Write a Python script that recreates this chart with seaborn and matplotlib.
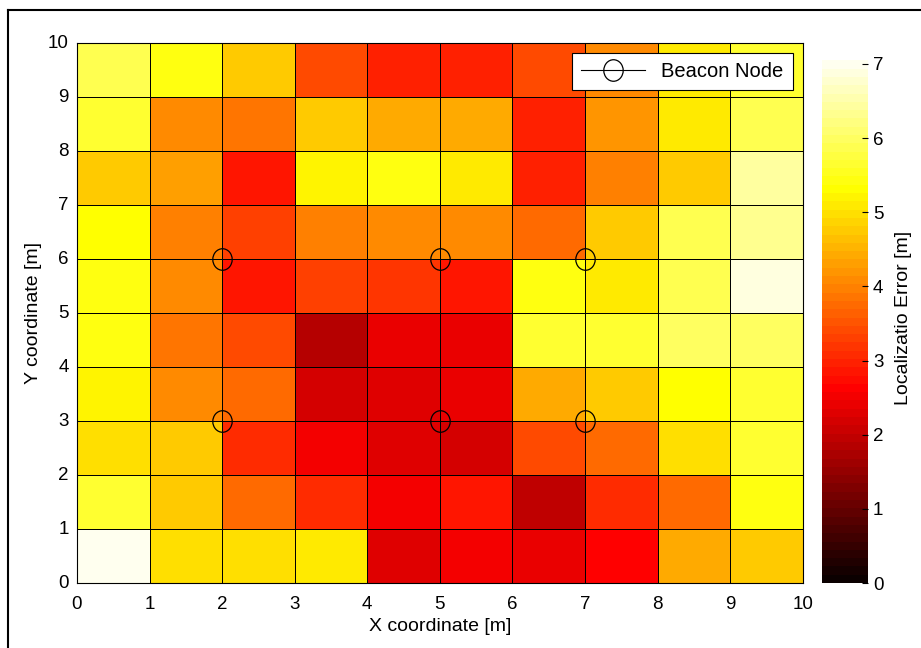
import matplotlib
matplotlib.use('Agg')
import matplotlib.pyplot as plt
from matplotlib.lines import Line2D
from matplotlib.markers import MarkerStyle
from matplotlib.transforms import Affine2D
import seaborn as sns
import pandas as pd

# localization error per 1m x 1m cell, one list per row (bottom row first)
err_y0 = [6.95, 5.00, 5.00, 5.08, 2.30, 2.54, 2.45, 2.65, 4.40, 4.80]
err_y1 = [5.70, 4.80, 3.70, 3.05, 2.54, 2.80, 1.98, 3.05, 3.80, 5.40]
err_y2 = [5.00, 4.80, 3.12, 2.54, 2.30, 2.20, 3.40, 3.70, 5.00, 5.70]
err_y3 = [5.15, 4.05, 3.70, 2.20, 2.30, 2.37, 4.47, 4.80, 5.30, 5.60]
err_y4 = [5.40, 3.90, 3.40, 1.80, 2.45, 2.45, 5.60, 5.70, 6.00, 6.00]
err_y5 = [5.40, 4.13, 2.90, 3.30, 3.20, 2.90, 5.40, 5.08, 5.90, 6.85]
err_y6 = [5.30, 3.98, 3.30, 3.98, 4.05, 4.13, 3.70, 4.70, 5.90, 6.30]
err_y7 = [4.70, 4.30, 2.80, 5.15, 5.45, 5.08, 2.95, 3.98, 4.70, 6.40]
err_y8 = [5.70, 4.13, 3.90, 4.70, 4.47, 4.47, 2.95, 4.20, 5.08, 5.90]
err_y9 = [5.90, 5.40, 4.80, 3.40, 2.95, 2.95, 3.45, 4.05, 5.08, 5.70]

beacon_x = [2, 5, 7, 2, 5, 7]
beacon_y = [6, 6, 6, 3, 3, 3]

ticks = list(range(0, 11))

rows = [err_y0, err_y1, err_y2, err_y3, err_y4, err_y5, err_y6, err_y7, err_y8, err_y9]
df = pd.DataFrame(rows, index=range(10), columns=range(10))

plt.rcParams['font.family'] = ['Liberation Sans', 'DejaVu Sans']

fig = plt.figure(figsize=(9.21, 6.48), dpi=100)
ax = fig.add_axes([0.0836, 0.1003, 0.788, 0.8333])
cax = fig.add_axes([0.8925, 0.1003, 0.05, 0.8194])

sns.heatmap(df, ax=ax, cbar_ax=cax, cmap=plt.get_cmap('hot', 64),
            vmin=0, vmax=7.16, linewidths=0.6, linecolor='black',
            cbar_kws={'ticks': [0, 1, 2, 3, 4, 5, 6, 7]})
ax.invert_yaxis()

# circles are a touch taller than wide in the original
oval = MarkerStyle('o', fillstyle='none', transform=Affine2D().scale(0.9, 1.0))
ax.plot(beacon_x, beacon_y, linestyle='none', marker=oval,
        mec='black', ms=15.5, mew=0.9)

ax.set_xticks(ticks)
ax.set_xticklabels([str(t) for t in ticks], rotation=0)
ax.set_yticks(ticks)
ax.set_yticklabels([str(t) for t in ticks], rotation=0)
ax.tick_params(axis='x', labelsize=13.5, length=0, pad=9)
ax.tick_params(axis='y', labelsize=13.5, length=0, pad=6)
ax.set_xlabel('X coordinate [m]', fontsize=14, labelpad=4)
ax.set_ylabel('Y coordinate [m]', fontsize=14, labelpad=4)
for s in ax.spines.values():
    s.set_visible(True)
    s.set_linewidth(0.8)

handle = Line2D([0], [0], color='black', lw=0.8, marker=oval,
                mec='black', ms=15.5, mew=0.9)
leg = ax.legend([handle], ['Beacon Node'], loc='upper right', fontsize=14.5,
                frameon=True, fancybox=False, edgecolor='black', framealpha=1,
                handlelength=3.2, borderaxespad=0.5, borderpad=0.45)
leg.get_frame().set_linewidth(0.8)

cax.tick_params(labelsize=13.5, direction='in', length=4, width=0.8)
cax.set_ylabel('Localizatio Error [m]', fontsize=14, labelpad=8)

# outer frame of the original image
fig.add_artist(Line2D([8 / 921, 8 / 921], [0, 1 - 10 / 648], color='black', lw=1.5))
fig.add_artist(Line2D([8 / 921, 1], [1 - 10 / 648, 1 - 10 / 648], color='black', lw=1.5))

fig.savefig('out.png', dpi=100)
